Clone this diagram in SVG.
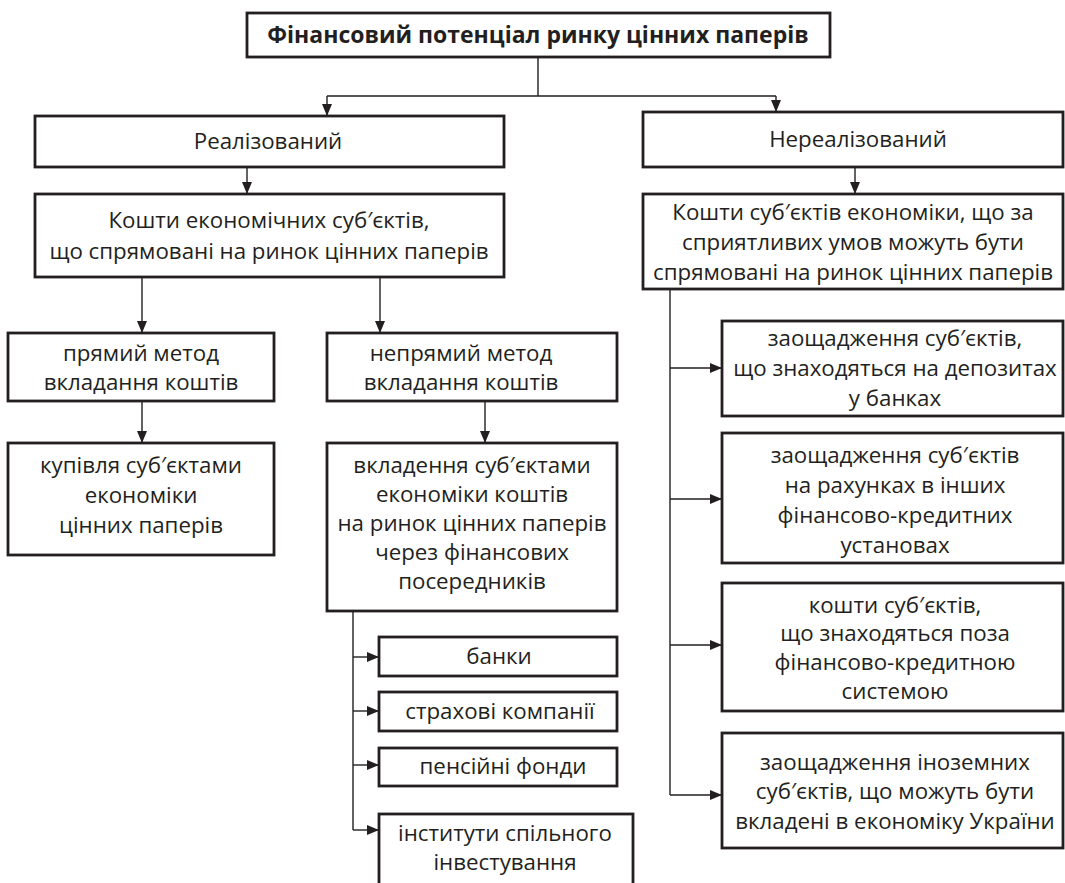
<svg xmlns="http://www.w3.org/2000/svg" width="1065" height="883" viewBox="0 0 1065 883">
<defs>
<marker id="ah" markerWidth="12" markerHeight="10" refX="12" refY="5" orient="auto" markerUnits="userSpaceOnUse">
<path d="M0,0 L12,5 L0,10 z" fill="#231f20"/>
</marker>
<style>
.b{fill:#fff;stroke:#231f20;stroke-width:2.8}
.t{font-family:"Open Sans","Noto Sans",sans-serif;font-size:22.3px;fill:#231f20;text-anchor:middle}
.bold{font-weight:bold;font-size:23px}
.c{fill:none;stroke:#231f20;stroke-width:1.4}
.a{fill:none;stroke:#231f20;stroke-width:1.4;marker-end:url(#ah)}
</style>
</defs>
<rect width="1065" height="883" fill="#fff"/>
<g id="connectors">
<path class="c" d="M538 57 V96 M327 96 H776"/>
<path class="a" d="M327 96 V116"/>
<path class="a" d="M776 96 V112"/>
<path class="a" d="M247 167 V194"/>
<path class="a" d="M855 167 V194"/>
<path class="a" d="M142 277 V333"/>
<path class="a" d="M380 277 V333"/>
<path class="a" d="M142 401 V443"/>
<path class="a" d="M485 401 V443"/>
<path class="c" d="M353 611 V830"/>
<path class="a" d="M353 657 H379"/>
<path class="a" d="M353 711 H379"/>
<path class="a" d="M353 765 H379"/>
<path class="a" d="M353 830 H379"/>
<path class="c" d="M670 289 V795"/>
<path class="a" d="M670 368 H722"/>
<path class="a" d="M670 499 H722"/>
<path class="a" d="M670 645 H722"/>
<path class="a" d="M670 795 H722"/>
</g>
<g id="root">
<rect class="b" x="247" y="13" width="583" height="44"/>
<text class="t bold" x="538" y="43">Фінансовий потенціал ринку цінних паперів</text>
</g>
<g id="realized">
<rect class="b" x="35" y="116" width="469" height="51"/>
<text class="t" x="268" y="149">Реалізований</text>
</g>
<g id="unrealized">
<rect class="b" x="643" y="112" width="420" height="55"/>
<text class="t" x="858" y="147">Нереалізований</text>
</g>
<g id="funds-directed">
<rect class="b" x="35" y="194" width="469" height="83"/>
<text class="t" x="269" y="228">Кошти економічних суб′єктів,</text>
<text class="t" x="269" y="259">що спрямовані на ринок цінних паперів</text>
</g>
<g id="funds-potential">
<rect class="b" x="643" y="194" width="420" height="95"/>
<text class="t" x="853" y="220">Кошти суб′єктів економіки, що за</text>
<text class="t" x="853" y="250">сприятливих умов можуть бути</text>
<text class="t" x="853" y="280">спрямовані на ринок цінних паперів</text>
</g>
<g id="direct">
<rect class="b" x="8" y="333" width="266" height="68"/>
<text class="t" x="141" y="361">прямий метод</text>
<text class="t" x="141" y="390">вкладання коштів</text>
</g>
<g id="indirect">
<rect class="b" x="327" y="333" width="290" height="68"/>
<text class="t" x="461" y="361">непрямий метод</text>
<text class="t" x="461" y="390">вкладання коштів</text>
</g>
<g id="purchase">
<rect class="b" x="8" y="443" width="266" height="112"/>
<text class="t" x="141" y="473">купівля суб′єктами</text>
<text class="t" x="141" y="503">економіки</text>
<text class="t" x="141" y="533">цінних паперів</text>
</g>
<g id="investment">
<rect class="b" x="327" y="443" width="290" height="168"/>
<text class="t" x="472" y="473">вкладення суб′єктами</text>
<text class="t" x="472" y="502">економіки коштів</text>
<text class="t" x="472" y="531">на ринок цінних паперів</text>
<text class="t" x="472" y="560">через фінансових</text>
<text class="t" x="472" y="589">посередників</text>
</g>
<g id="banks">
<rect class="b" x="379" y="637" width="238" height="39"/>
<text class="t" x="499" y="664">банки</text>
</g>
<g id="insurance">
<rect class="b" x="379" y="692" width="238" height="39"/>
<text class="t" x="500" y="719">страхові компанії</text>
</g>
<g id="pension">
<rect class="b" x="379" y="748" width="238" height="38"/>
<text class="t" x="503" y="774">пенсійні фонди</text>
</g>
<g id="collective">
<rect class="b" x="379" y="814" width="254" height="80"/>
<text class="t" x="505" y="841">інститути спільного</text>
<text class="t" x="505" y="870">інвестування</text>
</g>
<g id="deposits">
<rect class="b" x="722" y="321" width="341" height="95"/>
<text class="t" x="895" y="346">заощадження суб′єктів,</text>
<text class="t" x="895" y="376">що знаходяться на депозитах</text>
<text class="t" x="895" y="406">у  банках</text>
</g>
<g id="other-institutions">
<rect class="b" x="722" y="433" width="341" height="130"/>
<text class="t" x="895" y="463">заощадження суб′єктів</text>
<text class="t" x="895" y="493">на рахунках в інших</text>
<text class="t" x="895" y="523">фінансово-кредитних</text>
<text class="t" x="895" y="553">установах</text>
</g>
<g id="outside">
<rect class="b" x="722" y="583" width="341" height="128"/>
<text class="t" x="895" y="613">кошти суб′єктів,</text>
<text class="t" x="895" y="641">що знаходяться поза</text>
<text class="t" x="895" y="670">фінансово-кредитною</text>
<text class="t" x="895" y="699">системою</text>
</g>
<g id="foreign">
<rect class="b" x="722" y="733" width="341" height="115"/>
<text class="t" x="895" y="770">заощадження іноземних</text>
<text class="t" x="895" y="799">суб′єктів, що можуть бути</text>
<text class="t" x="895" y="829">вкладені в економіку України</text>
</g>
</svg>
